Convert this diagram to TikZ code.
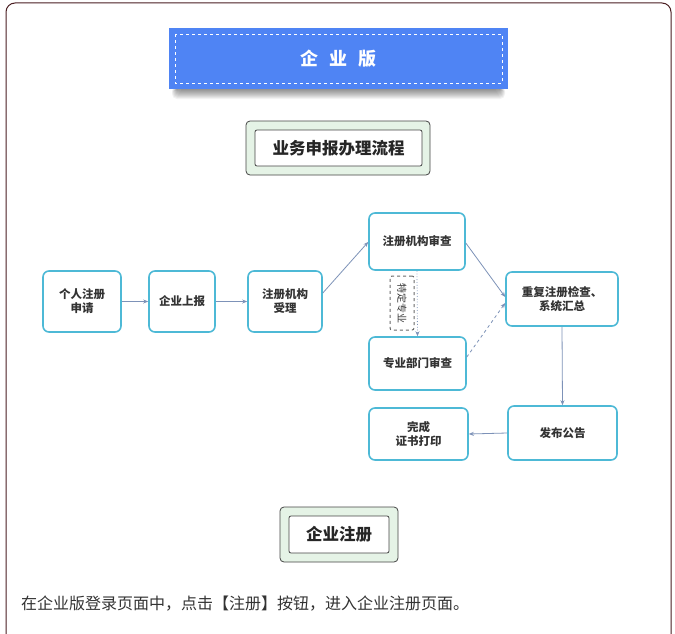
\documentclass[tikz,border=0pt]{standalone}
\usepackage{fontspec}
\setmainfont{Noto Sans CJK SC}
\newfontfamily\cjk{Noto Sans CJK SC}
\usetikzlibrary{arrows.meta}
\definecolor{frame}{HTML}{4A1E22}
\definecolor{titleblue}{HTML}{4F84F4}
\definecolor{cyanb}{HTML}{4DB9D6}
\definecolor{arr}{HTML}{7D92B8}
\definecolor{lgreen}{HTML}{E5F3E6}
\definecolor{dgray}{HTML}{444444}
\definecolor{txt}{HTML}{333333}
\tikzset{
  flow/.style={draw=cyanb, line width=1.6pt, rounded corners=6pt, fill=white, align=center,
    font=\cjk\fontsize{11.5}{14}\selectfont\bfseries, text=txt, inner sep=0pt},
  conn/.style={draw=arr, line width=0.8pt, -{Stealth[length=5pt,width=4pt]}},
  outerbox/.style={draw=dgray, line width=0.8pt, rounded corners=4pt, fill=lgreen},
  innerbox/.style={draw=dgray, line width=0.8pt, rounded corners=2pt, fill=white,
    font=\cjk\fontsize{16.5}{19}\selectfont\bfseries, text=black!85},
}
\begin{document}
\begin{tikzpicture}[x=1pt,y=-1pt]
\useasboundingbox (0,0) rectangle (675,634);
\fill[white] (0,0) rectangle (675,634);
% outer frame
\draw[frame, line width=1pt, rounded corners=9pt] (6,640) -- (6,3) -- (671,3) -- (671,640);
% title shadow (soft)
\foreach \i in {0,1,...,9}{
  \fill[black, opacity=0.05, rounded corners=5pt] (172+\i*0.6,86) rectangle (505-\i*0.6,99-\i*1.0);
}
\node[fill=titleblue, minimum width=339pt, minimum height=61pt, inner sep=0pt] (title) at (338.5,58.5) {};
\draw[white, dashed, line width=0.8pt] (175,34) rectangle (502,83);
\node[text=white, font=\cjk\fontsize{18}{20}\selectfont\bfseries] at (title.center) {企\hspace{0.6em}业\hspace{0.6em}版};
% process heading
\node[outerbox, minimum width=184pt, minimum height=54pt] (h1o) at (338,148) {};
\node[innerbox, minimum width=167pt, minimum height=36pt, inner sep=0pt] (h1) at (338.5,148) {业务申报办理流程};
% flow nodes
\node[flow, minimum width=78pt, minimum height=61pt] (n1) at (82,301.5) {个人注册\\申请};
\node[flow, minimum width=66pt, minimum height=61pt] (n2) at (182,301.5) {企业上报};
\node[flow, minimum width=74pt, minimum height=61pt] (n3) at (285,301.5) {注册机构\\受理};
\node[flow, minimum width=96pt, minimum height=57pt] (n4) at (417,241.5) {注册机构审查};
\node[flow, minimum width=97pt, minimum height=53pt] (n5) at (417.5,363.5) {专业部门审查};
\node[flow, minimum width=112pt, minimum height=54pt] (n6) at (562,299) {重复注册检查、\\系统汇总};
\node[flow, minimum width=109pt, minimum height=54pt] (n7) at (562.5,433) {发布公告};
\node[flow, minimum width=99pt, minimum height=52pt] (n8) at (418.5,434) {完成\\证书打印};
% special box
\node[draw=dgray!80, dashed, line width=1pt, rounded corners=2pt, minimum width=24pt, minimum height=54pt, inner sep=0pt] (sp) at (402,303) {};
\node[rotate=-90, font=\cjk\fontsize{10}{12}\selectfont, text=txt] at (sp.center) {特定专业};
% connectors
\draw[conn] (n1.east) -- (n2.west);
\draw[conn] (n2.east) -- (n3.west);
\draw[conn] (n3.east |- 0,293) -- (n4.west |- 0,242);
\draw[conn] (n4.east |- 0,243) -- (n6.west |- 0,297);
\draw[conn, dotted] (n4.south) -- (n5.north);
\draw[conn, dashed] (n5.east |- 0,357) -- (n6.west |- 0,303);
\draw[conn] (n6.south) -- (n7.north);
\draw[conn] (n7.west) -- (n8.east);
% enterprise registration heading
\node[outerbox, minimum width=118pt, minimum height=55pt] (h2o) at (339,534.5) {};
\node[innerbox, minimum width=100pt, minimum height=37pt, inner sep=0pt] (h2) at (339,534.5) {企业注册};
% bottom text
\node[anchor=west, font=\cjk\fontsize{16}{18}\selectfont, text=txt, inner sep=0pt] (para) at (21,604) {在企业版登录页面中，点击【注册】按钮，进入企业注册页面。};
\end{tikzpicture}
\end{document}
